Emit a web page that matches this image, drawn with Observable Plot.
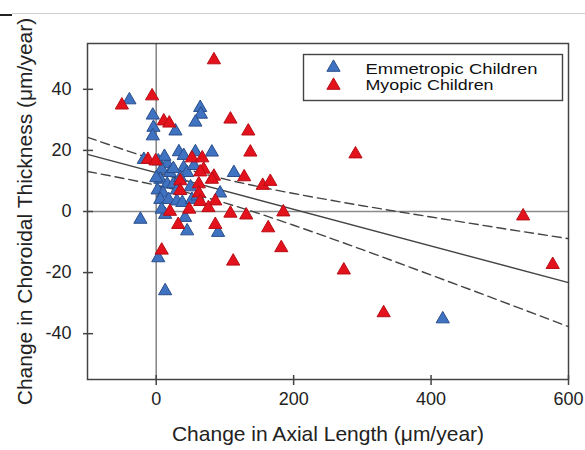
<!DOCTYPE html>
<html><head><meta charset="utf-8">
<script src="https://cdn.jsdelivr.net/npm/d3@7"></script>
<script src="https://cdn.jsdelivr.net/npm/@observablehq/plot@0.6"></script>
<style>
body{margin:0;background:#fff;font-family:"Liberation Sans",Arial,sans-serif}
#wrap{position:relative;width:585px;height:450px;overflow:hidden}
#wrap svg{position:absolute;left:0;top:0}
.topline{position:absolute;top:13px;left:12px;width:573px;height:1px;background:#cfcfcf}
.topline2{position:absolute;top:14px;left:0;width:12px;height:1.5px;background:#222}
</style></head><body><div id="wrap"><div class="topline"></div><div class="topline2"></div></div>
<script>
const seriesNames = ["Emmetropic Children", "Myopic Children"];
const xLabel = "Change in Axial Length (μm/year)";
const yLabel = "Change in Choroidal Thickness (μm/year)";
const xTicks = [0, 200, 400, 600];
const yTicks = [-40, -20, 0, 20, 40];

const emmetropicX = [-39, -5, -4, -5, 28, 64, 65, 57, 33, 40, 57, 81, -18, 3, 16, 8, 20, 40, 45, 113, 6, 16, 2, 10, 25, 30, 50, 93, 6, 18, 30, 38, 52, 13, 8, 42, 45, 90, -23, 3, 13, 417, 25, 0, 12, 55, 35, 60];
const emmetropicY = [36.5, 31.5, 27.5, 24.7, 26.3, 34, 31.8, 29.2, 19.5, 18.3, 19.5, 19.4, 17, 16.5, 15.6, 13.8, 12.7, 14.3, 12.7, 12.7, 10.5, 8.9, 7, 6, 9, 7, 8, 6, 3.9, 3.9, 3.4, 2.9, 3.9, -1, 0.7, -2, -6.4, -6.9, -2.6, -15.2, -26, -35.2, 14, 11, 18, 15, 11, 5];

const myopicX = [-50, -6, 84, 11, 19, 108, 134, 137, 290, -12, -1, 52, 67, 69, 84, 64, 128, 155, 166, 35, 62, 81, 35, 62, 64, 86, 76, 20, 48, 108, 131, 185, 32, 86, 163, 8, 112, 182, 273, 331, 534, 577];
const myopicY = [34.8, 37.8, 49.6, 29.6, 28.9, 30.2, 26.3, 19.4, 18.8, 17, 16.5, 17.5, 17.5, 13.8, 11.5, 12.9, 11.3, 8.5, 9.8, 10, 9, 10.5, 6.8, 6, 3.2, 3.4, 1.2, 0, 0.7, -0.6, -1.2, -0.2, -4.3, -4.3, -5.4, -12.7, -16.3, -11.9, -19.2, -33.2, -1.5, -17.4];

const fitX = [-100, 600];
const fitY = [18.7, -23.3];
const bandX = [-100, 0, 100, 200, 300, 400, 500, 600];
const upperY = [24.3, 16.8, 10.6, 5.9, 1.9, -1.8, -5.4, -8.9];
const lowerY = [13.1, 8.6, 2.8, -4.5, -12.5, -20.8, -29.2, -37.7];

const emm = emmetropicX.map((x, i) => ({x, y: emmetropicY[i]}));
const myo = myopicX.map((x, i) => ({x, y: myopicY[i]}));
const fit = fitX.map((x, i) => ({x, y: fitY[i]}));
const upper = bandX.map((x, i) => ({x, y: upperY[i]}));
const lower = bandX.map((x, i) => ({x, y: lowerY[i]}));

const blue = "#3f72c0", blueEdge = "#2a4e8c", red = "#e3121c", redEdge = "#b80d15";
const fmt = d => String(d);

const chart = Plot.plot({
  width: 585, height: 450,
  marginLeft: 87, marginRight: 17, marginTop: 43, marginBottom: 71,
  style: {fontFamily: "'Liberation Sans', Arial, sans-serif", fontSize: "18px", color: "#222", background: "transparent", overflow: "visible"},
  x: {domain: [-100, 600]},
  y: {domain: [-55, 55]},
  marks: [
    Plot.ruleY([0], {stroke: "#8a8a8a", strokeWidth: 1.6}),
    Plot.ruleX([0], {stroke: "#8a8a8a", strokeWidth: 1.6}),
    Plot.line(fit, {x: "x", y: "y", stroke: "#444", strokeWidth: 1.4}),
    Plot.line(upper, {x: "x", y: "y", curve: "natural", stroke: "#444", strokeWidth: 1.4, strokeDasharray: "9,5"}),
    Plot.line(lower, {x: "x", y: "y", curve: "natural", stroke: "#444", strokeWidth: 1.4, strokeDasharray: "9,5"}),
    Plot.dot(emm, {x: "x", y: "y", symbol: "triangle", r: 4.9, fill: blue, stroke: blueEdge, strokeWidth: 1}),
    Plot.dot(myo, {x: "x", y: "y", symbol: "triangle", r: 4.9, fill: red, stroke: redEdge, strokeWidth: 1}),
    Plot.frame({stroke: "#444", strokeWidth: 1.5}),
    Plot.axisX(xTicks, {tickSize: 10, dy: -4, tickPadding: 7, label: null, tickFormat: fmt, stroke: "#444", strokeWidth: 1.5, fontSize: 18}),
    Plot.axisY(yTicks, {tickSize: 10, dx: 6, tickPadding: 12, label: null, tickFormat: fmt, stroke: "#444", strokeWidth: 1.5, fontSize: 18}),
    Plot.text([xLabel], {text: d => d, frameAnchor: "bottom", lineAnchor: "bottom", dy: 61, fontSize: 21, fill: "#222"}),
    Plot.text([yLabel], {text: d => d, frameAnchor: "left", textAnchor: "middle", rotate: -90, lineAnchor: "bottom", dx: -56, fontSize: 21, fill: "#222"}),
    // legend
    Plot.frame({insetLeft: 216, insetTop: 11, insetRight: 6, insetBottom: 279, stroke: "#444", strokeWidth: 1.4, fill: "white"}),
    Plot.dot([seriesNames[0]], {frameAnchor: "top-left", dx: 246, dy: 24, symbol: "triangle", r: 4.9, fill: blue, stroke: blueEdge, strokeWidth: 1}),
    Plot.dot([seriesNames[1]], {frameAnchor: "top-left", dx: 246, dy: 42, symbol: "triangle", r: 4.9, fill: red, stroke: redEdge, strokeWidth: 1}),
    Plot.text([seriesNames[0]], {text: d => d, frameAnchor: "top-left", textAnchor: "start", lineAnchor: "bottom", dx: 278, dy: 30, fontSize: 14, fill: "#111"}),
    Plot.text([seriesNames[1]], {text: d => d, frameAnchor: "top-left", textAnchor: "start", lineAnchor: "bottom", dx: 278, dy: 46.5, fontSize: 14, fill: "#111"})
  ]
});
const legendWidths = {"Emmetropic Children": 172, "Myopic Children": 128};
d3.select(chart).selectAll("text")
  .filter(function() { return seriesNames.includes(this.textContent); })
  .attr("textLength", function() { return legendWidths[this.textContent]; })
  .attr("lengthAdjust", "spacingAndGlyphs");
document.getElementById("wrap").appendChild(chart);
</script>
</body></html>
